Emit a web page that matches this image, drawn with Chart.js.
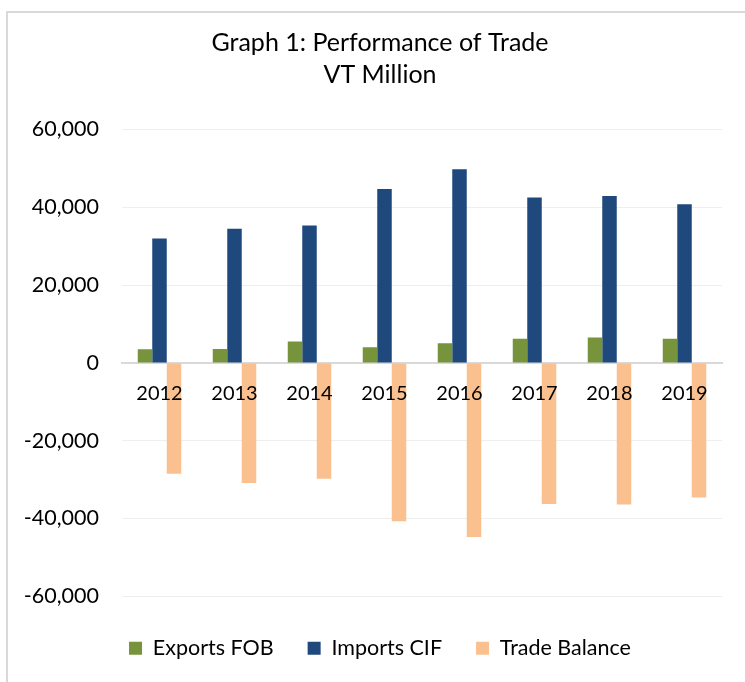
<!DOCTYPE html>
<html>
<head>
<meta charset="utf-8">
<title>Graph 1: Performance of Trade</title>
<script src="https://cdn.jsdelivr.net/npm/chart.js@4.4.1/dist/chart.umd.min.js"></script>
<style>
    html, body { margin: 0; padding: 0; background: #fff; overflow: hidden; }
    #frame { position: absolute; left: 6px; top: 11px; width: 800px; height: 700px;
             border-left: 2px solid #d9d9d9; border-top: 2px solid #d9d9d9; }
    #wrap { position: absolute; left: 0; top: 0; width: 745px; height: 682px; }
</style>
</head>
<body>
<div id="frame"></div>
<div id="wrap"><canvas id="trade_chart"></canvas></div>
<script>
// values, VT million
const years = ["2012", "2013", "2014", "2015", "2016", "2017", "2018", "2019"]
const exports_fob = [3500, 3600, 5500, 4000, 5050, 6200, 6500, 6200]
const imports_cif = [32000, 34500, 35300, 44700, 49800, 42500, 42900, 40800]
const trade_balance = [-28500, -30900, -29800, -40700, -44750, -36300, -36400, -34600]
const y_ticks = [-60000, -40000, -20000, 0, 20000, 40000, 60000]

Chart.defaults.font.family = 'Lato, "Liberation Sans", sans-serif'
Chart.defaults.color = '#000'

const trade_data = {
    labels: years,
    datasets: [{
        label: 'Exports FOB',
        data: exports_fob,
        backgroundColor: '#77933c'
    }, {
        label: 'Imports CIF',
        data: imports_cif,
        backgroundColor: '#1f497d'
    }, {
        label: 'Trade Balance',
        data: trade_balance,
        backgroundColor: '#fac090'
    }]
}

// the y labels stick out to the left of the (narrow) y axis box, so don't clip them there
const unclipYLabels = {
    id: 'unclipYLabels',
    afterLayout(chart) {
        chart.scales.y.left = 0
    }
}

const config = {
    type: 'bar',
    data: trade_data,
    plugins: [unclipYLabels],
    options: {
        responsive: true,
        maintainAspectRatio: false,
        animation: false,
        devicePixelRatio: 1,
        datasets: {
            bar: { categoryPercentage: 0.58, barPercentage: 1.0, borderWidth: 0 }
        },
        layout: { padding: { left: 38, right: 23, top: 12, bottom: 13 } },
        scales: {
            x: {
                position: { y: 0 },
                grid: { display: false },
                border: { color: '#d9d9d9', width: 2 },
                ticks: { font: { size: 20 }, padding: 11, maxRotation: 0, z: 1 }
            },
            y: {
                min: -60000,
                max: 60000,
                afterBuildTicks: (scale) => { scale.ticks = y_ticks.map(v => ({ value: v })) },
                afterFit: (scale) => { scale.width = 84 },
                grid: { color: '#eeeeee', lineWidth: 1, drawTicks: false },
                border: { display: false },
                ticks: {
                    font: { size: 21.5 },
                    padding: 23,
                    callback: (v) => v.toLocaleString('en-US')
                }
            }
        },
        plugins: {
            title: {
                display: true,
                text: ['Graph 1: Performance of Trade', 'VT Million'],
                font: { size: 25, weight: 'normal', lineHeight: 1.27 },
                color: '#000',
                padding: { top: 15, bottom: 39 }
            },
            legend: {
                position: 'bottom',
                title: { display: true, text: ' ', font: { size: 1 }, padding: { top: 6, bottom: 0 } },
                labels: { boxWidth: 13, boxHeight: 13, padding: 34, font: { size: 21.5 }, color: '#000' }
            },
            tooltip: { enabled: false }
        }
    }
}

const myChart = new Chart(document.getElementById('trade_chart'), config)
</script>
</body>
</html>
